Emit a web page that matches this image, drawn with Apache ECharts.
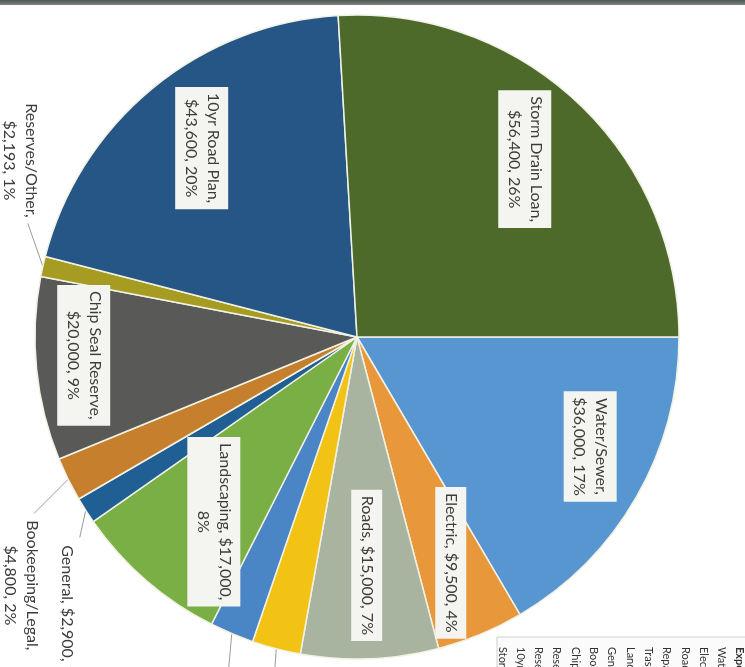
<!DOCTYPE html>
<html>
<head>
<meta charset="utf-8">
<script src="https://cdn.jsdelivr.net/npm/echarts@6/dist/echarts.min.js"></script>
<style>
  html, body { margin: 0; padding: 0; background: #ffffff; }
  #chart { width: 745px; height: 667px; }
</style>
</head>
<body>
<div id="chart"></div>
<script>
// Budget expense categories, in slice order (clockwise from 3 o'clock)
const categories = [
  'Water/Sewer', 'Electric', 'Roads', 'Repairs', 'Trash', 'Landscaping',
  'General', 'Bookeeping/Legal', 'Chip Seal Reserve', 'Reserves/Other',
  '10yr Road Plan', 'Storm Drain Loan'
];
// Dollar amounts per category
const amounts = [36000, 9500, 15000, 5300, 4800, 17000, 2900, 4800, 20000, 2193, 43600, 56400];

// Rows of the expense table in the corner (header first)
const tableHeader = 'Expense';
const tableRows = [
  'Water/Sewer', 'Electric', 'Roads', 'Repairs', 'Trash', 'Landscaping',
  'General', 'Bookeeping/Legal', 'Chip Seal Reserve', 'Reserves/Other',
  'Reserve Transfer', '10yr Road Plan', 'Storm Drain Loan'
];

// ---- styling ----
const sliceColors = [
  '#5896d2', '#e8973a', '#a8b4a0', '#f2c314', '#4a86c6', '#7aaf46',
  '#1f5f94', '#c67f2c', '#595a57', '#a79c22', '#255685', '#4d6a2b'
];
const CX = 357, CY = 337, R = 322;
const FONT = 'Lato, "Open Sans", sans-serif';
const TEXT_COLOR = '#3c3c3c';

// labels drawn inside their slice (white callout boxes)
const insideLabelled = ['Water/Sewer', 'Electric', 'Roads', 'Landscaping',
  'Chip Seal Reserve', '10yr Road Plan', 'Storm Drain Loan'];
// where each label wraps: after the name, after the value, or not at all
const labelBreak = { 'Electric': 'none', 'Roads': 'none', 'General': 'none', 'Landscaping': 'value' };
// small screen-space nudges for inside callouts
const insideLabelNudge = {
  'Water/Sewer': [21, -12], 'Roads': [0, -16], 'Landscaping': [17, 0], 'Chip Seal Reserve': [-30, -6]
};
// outside labels: leader-line end and label centre, relative to the slice rim point
const outsideLabelOffset = {
  'Reserves/Other':   { line: [-15, -43], text: [-23, -106] },
  'General':          { line: [-6, 27],   text: [-19, 106] },
  'Bookeeping/Legal': { line: [-34, 34],  text: [-47, 106] },
  'Repairs':          { line: [-3, 45],   text: [0, 130] },
  'Trash':            { line: [-4, 45],   text: [-5, 130] }
};

function formatLabel(p) {
  const brk = labelBreak[p.name] || 'name';
  const money = '$' + p.value.toLocaleString('en-US');
  const pct = Math.round(p.percent) + '%';
  const s1 = brk === 'name' ? '\n' : ' ';
  const s2 = brk === 'value' ? '\n' : ' ';
  return p.name + ',' + s1 + money + ',' + s2 + pct;
}

const pieData = categories.map((name, i) => {
  const outside = !insideLabelled.includes(name);
  return {
    name, value: amounts[i],
    itemStyle: { color: sliceColors[i] },
    label: { show: outside },
    labelLine: { show: outside }
  };
});

const calloutData = categories.map((name, i) => ({
  name, value: amounts[i],
  label: { show: insideLabelled.includes(name) }
}));

const chart = echarts.init(document.getElementById('chart'), null, { renderer: 'canvas' });

const graphics = [
  // dark page edge along the top
  { type: 'rect', shape: { x: 0, y: 0, width: 745, height: 5 },
    style: { fill: new echarts.graphic.LinearGradient(0, 0, 0, 1, [
      { offset: 0, color: '#4e5652' }, { offset: 1, color: '#7d8580' }]) }, silent: true },
  // expense table frame
  { type: 'rect', shape: { x: 497, y: 637, width: 260, height: 40 },
    style: { fill: '#fbfbfb', stroke: '#cfcfcf', lineWidth: 1 }, silent: true }
];
const allRows = [tableHeader].concat(tableRows);
allRows.forEach((t, i) => {
  graphics.push({
    type: 'text', x: 740 - i * 18.3, y: 647, rotation: -Math.PI / 2, silent: true,
    style: { text: t, font: (i === 0 ? 'bold ' : '') + '11px ' + FONT, fill: '#333',
             align: 'left', verticalAlign: 'middle' }
  });
});

const labelText = { color: TEXT_COLOR, fontFamily: FONT, fontSize: 16, lineHeight: 22 };

chart.setOption({
  animation: false,
  backgroundColor: '#ffffff',
  graphic: graphics,
  series: [
    {
      type: 'pie',
      center: [CX, CY],
      radius: R,
      startAngle: 0,
      clockwise: true,
      avoidLabelOverlap: false,
      silent: true,
      itemStyle: { borderColor: '#f1f1e4', borderWidth: 1.5 },
      label: Object.assign({ position: 'outside', rotate: -90, formatter: formatLabel }, labelText),
      labelLine: { length: 12, length2: 0, lineStyle: { color: '#9a9a9a', width: 1 } },
      labelLayout: function (p) {
        const off = outsideLabelOffset[categories[p.dataIndex]];
        if (!off || !p.labelLinePoints) return {};
        const a = p.labelLinePoints[0];
        const e = [a[0] + off.line[0], a[1] + off.line[1]];
        return {
          x: a[0] + off.text[0], y: a[1] + off.text[1],
          align: 'center', verticalAlign: 'middle',
          labelLinePoints: [a, e, e]
        };
      },
      data: pieData
    },
    {
      // transparent ring carrying the in-slice callouts at ~3/4 radius
      type: 'pie',
      center: [CX, CY],
      radius: R * 1.5,
      startAngle: 0,
      clockwise: true,
      avoidLabelOverlap: false,
      silent: true,
      itemStyle: { color: 'rgba(0,0,0,0)', borderWidth: 0 },
      emphasis: { disabled: true },
      label: Object.assign({
        position: 'inside', rotate: -90, formatter: formatLabel,
        backgroundColor: '#f4f4f0', padding: [5, 6, 4, 6]
      }, labelText),
      labelLine: { show: false },
      labelLayout: function (p) {
        const n = insideLabelNudge[categories[p.dataIndex]];
        // offsets act in the label's own (rotated) frame: convert from screen space
        return n ? { dx: n[1], dy: -n[0] } : {};
      },
      data: calloutData
    }
  ]
});
</script>
</body>
</html>
